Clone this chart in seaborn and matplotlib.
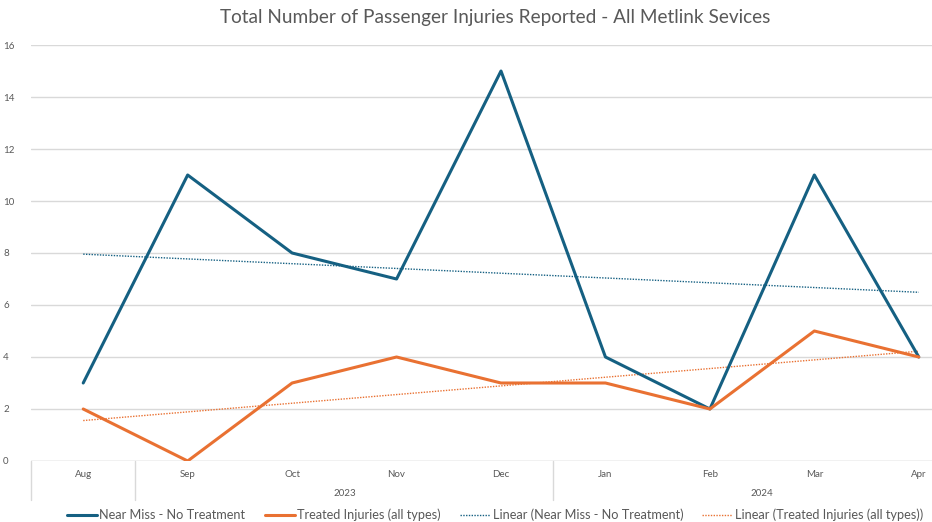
import numpy as np
import pandas as pd
import matplotlib
matplotlib.use("Agg")
import matplotlib.pyplot as plt
from matplotlib.lines import Line2D
import seaborn as sns

months = ["Aug", "Sep", "Oct", "Nov", "Dec", "Jan", "Feb", "Mar", "Apr"]
near_miss = [3, 11, 8, 7, 15, 4, 2, 11, 4]
treated = [2, 0, 3, 4, 3, 3, 2, 5, 4]
year_groups = [("", 0, 0), ("2023", 1, 4), ("2024", 5, 8)]
y_ticks = [0, 2, 4, 6, 8, 10, 12, 14, 16]

BLUE = "#156082"
ORANGE = "#E97132"
GREY_TXT = "#595959"
GRID = "#D9D9D9"

sns.set_theme(style="white")
plt.rcParams["font.family"] = ["Lato", "DejaVu Sans"]

x = np.arange(len(months))
df = pd.DataFrame({"x": x, "near": near_miss, "treated": treated})

# least-squares trendlines for each series
p_near = np.polyfit(x, near_miss, 1)
p_tr = np.polyfit(x, treated, 1)
df["near_trend"] = np.polyval(p_near, x)
df["treated_trend"] = np.polyval(p_tr, x)

fig = plt.figure(figsize=(9.32, 5.22), dpi=100)
W, H = 932, 522
ax_left, ax_right = 31, 971
ax_top, ax_bot = 45, 461
ax = fig.add_axes([ax_left / W, (H - ax_bot) / H,
                   (ax_right - ax_left) / W, (ax_bot - ax_top) / H])

sns.lineplot(data=df, x="x", y="near_trend", ax=ax, color=BLUE,
             linestyle=(0, (1, 1)), linewidth=1.0, zorder=2)
sns.lineplot(data=df, x="x", y="treated_trend", ax=ax, color=ORANGE,
             linestyle=(0, (1, 1)), linewidth=1.0, zorder=2)
sns.lineplot(data=df, x="x", y="near", ax=ax, color=BLUE,
             linewidth=2.2, zorder=3)
sns.lineplot(data=df, x="x", y="treated", ax=ax, color=ORANGE,
             linewidth=2.2, zorder=3)

ax.set_xlim(-0.5, len(months) - 0.5)
ax.set_ylim(0, 16)
ax.set_yticks(y_ticks)
ax.set_yticklabels([str(v) for v in y_ticks], fontsize=7, color=GREY_TXT)
ax.tick_params(axis="y", length=0, pad=20)
for lab in ax.get_yticklabels():
    lab.set_horizontalalignment("left")
ax.yaxis.grid(True, color=GRID, linewidth=1.0)
ax.set_axisbelow(True)
for s in ax.spines.values():
    s.set_visible(False)
ax.set_xlabel("")
ax.set_ylabel("")
ax.set_xticks([])

# baseline
ax.axhline(0, color=GRID, linewidth=1.0, zorder=1)

# two-level category axis
trans = ax.get_xaxis_transform()
for m, xi in zip(months, x):
    ax.text(xi, -0.032, m, transform=trans, ha="center", va="center",
            fontsize=7, color=GREY_TXT)
sep_len = 39 / (ax_bot - ax_top)
for label, a, b in year_groups:
    edge = a - 0.5
    ax.add_line(Line2D([edge, edge], [0, -sep_len], transform=trans,
                       color=GRID, linewidth=1.0, clip_on=False))
    if label:
        ax.text((a + b) / 2, -0.077, label, transform=trans, ha="center",
                va="center", fontsize=7, color=GREY_TXT)

fig.text(495 / W, 1 - 18 / H, "Total Number of Passenger Injuries Reported - All Metlink Sevices",
         ha="center", va="center", fontsize=13.7, color=GREY_TXT)

handles = [
    Line2D([], [], color=BLUE, linewidth=2.2),
    Line2D([], [], color=ORANGE, linewidth=2.2),
    Line2D([], [], color=BLUE, linewidth=1.0, linestyle=(0, (1, 1))),
    Line2D([], [], color=ORANGE, linewidth=1.0, linestyle=(0, (1, 1))),
]
labels = ["Near Miss - No Treatment", "Treated Injuries (all types)",
          "Linear (Near Miss - No Treatment)", "Linear (Treated Injuries (all types))"]
fig.legend(handles, labels, loc="center", bbox_to_anchor=(495 / W, 1 - 515 / H),
           ncol=4, frameon=False, fontsize=9.2, handlelength=2.35,
           handletextpad=0.2, columnspacing=1.5, labelcolor=GREY_TXT,
           borderpad=0, borderaxespad=0)

fig.savefig("out.png", dpi=100)
